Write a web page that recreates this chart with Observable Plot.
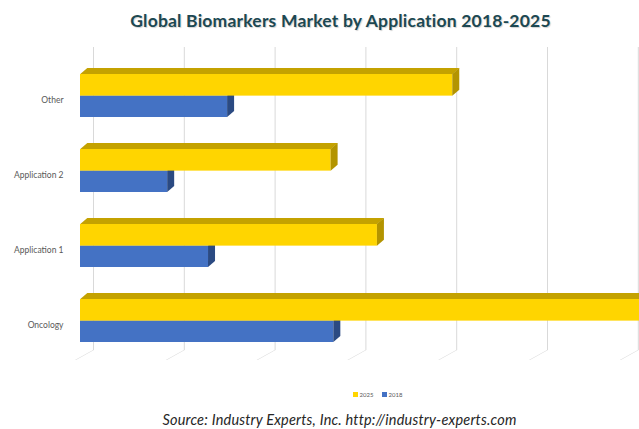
<!DOCTYPE html>
<html>
<head>
<meta charset="utf-8">
<script src="https://cdn.jsdelivr.net/npm/d3@7"></script>
<script src="https://cdn.jsdelivr.net/npm/@observablehq/plot@0.6"></script>
<style>
  html, body { margin: 0; padding: 0; background: #fff; overflow: hidden; width: 639px; height: 429px; }
  #title { height: 40px; line-height: 42px; text-align: center; font-family: Lato, "Open Sans", sans-serif; font-weight: 700; font-size: 17.5px; letter-spacing: 0.2px; color: #1c4852; text-shadow: 1px 1px 1px rgba(0,0,0,0.18); padding-left: 42px; }
  #chart { height: 340px; }
  #legend { height: 28px; display: flex; justify-content: center; align-items: center; gap: 8px; font-family: Lato, sans-serif; font-size: 6px; color: #595959; padding-left: 116px; }
  #legend .item { display: flex; align-items: center; gap: 2px; }
  #legend .sw { width: 5px; height: 5px; display: inline-block; }
  #source { height: 21px; line-height: 24px; text-align: center; font-family: Lato, sans-serif; font-style: italic; font-size: 14.5px; letter-spacing: 0.2px; color: #262626; padding-left: 40px; }
  svg g[aria-description="topface"] rect { transform-box: fill-box; transform-origin: left bottom; transform: skewX(-49.4deg); }
  svg g[aria-description="side"] rect { transform-box: fill-box; transform-origin: left top; transform: skewY(-40.6deg); }
  svg g[aria-description="floor"] line { transform-box: fill-box; transform-origin: left bottom; transform: skewX(-60.9deg); }
</style>
</head>
<body>
<div id="title">Global Biomarkers Market by Application 2018-2025</div>
<div id="chart"></div>
<div id="legend"></div>
<div id="source">Source: Industry Experts, Inc. http://industry-experts.com</div>
<script>
// ---- data ----
const categories = ["Other", "Application 2", "Application 1", "Oncology"];
const seriesNames = ["2025", "2018"];
const values2025 = [41.0, 27.6, 32.7, 65.0];
const values2018 = [16.2, 9.6, 14.1, 27.9];
const gridTicks = [0, 10, 20, 30, 40, 50, 60];

// ---- styles ----
const colors = {"2025": "#FFD500", "2018": "#4472C4"};
const topColors = {"2025": "#C4A200", "2018": "#2F5597"};
const sideColors = {"2025": "#B39400", "2018": "#2B4A82"};
const gridColor = "#d9d9d9";

const rows2025 = categories.map((c, i) => ({category: c, series: "2025", value: values2025[i]}));
const rows2018 = categories.map((c, i) => ({category: c, series: "2018", value: values2018[i]}));

const paddingInner = 0.43;
const yRange = [17.5, 317.5];
const step = (yRange[1] - yRange[0]) / categories.length;
const bw = step * (1 - paddingInner);
const half = bw / 2;
const depthX = 7, depthY = 6;

const chart = Plot.plot({
  width: 639,
  height: 340,
  marginLeft: 80,
  marginRight: 14.2,
  marginTop: 7,
  marginBottom: 20,
  style: {fontFamily: "Lato, 'Open Sans', sans-serif", background: "white"},
  x: {domain: [0, 60], axis: null},
  y: {domain: categories, range: yRange, paddingInner: paddingInner, paddingOuter: paddingInner / 2, label: null},
  marks: [
    Plot.ruleX(gridTicks, {x: d => d, dx: 13, insetBottom: 10, stroke: gridColor, strokeWidth: 1}),
    Plot.ruleX(gridTicks, {x: d => d, dx: -5, insetTop: 303, stroke: gridColor, strokeWidth: 1, ariaDescription: "floor"}),
    // yellow top face
    Plot.barX(rows2025, {x: "value", y: "category", insetTop: -depthY, insetBottom: bw, fill: topColors["2025"], ariaDescription: "topface"}),
    // blue front + side
    Plot.barX(rows2018, {x: "value", y: "category", insetTop: half, fill: colors["2018"]}),
    Plot.barX(rows2018, {x1: "value", x2: "value", y: "category", insetTop: half, insetRight: -depthX, fill: sideColors["2018"], ariaDescription: "side"}),
    // yellow front + side
    Plot.barX(rows2025, {x: "value", y: "category", insetBottom: half, fill: colors["2025"]}),
    Plot.barX(rows2025, {x1: "value", x2: "value", y: "category", insetBottom: half, insetRight: -depthX, fill: sideColors["2025"], ariaDescription: "side"}),
    Plot.axisY({tickSize: 0, tickPadding: 17, dy: 4, fontSize: 8.5, color: "#595959", label: null})
  ]
});
document.getElementById("chart").appendChild(chart);

// legend
const legend = document.getElementById("legend");
seriesNames.forEach(s => {
  const item = document.createElement("span");
  item.className = "item";
  const sw = document.createElement("span");
  sw.className = "sw";
  sw.style.background = colors[s];
  const t = document.createElement("span");
  t.textContent = s;
  item.appendChild(sw); item.appendChild(t);
  legend.appendChild(item);
});
</script>
</body>
</html>
